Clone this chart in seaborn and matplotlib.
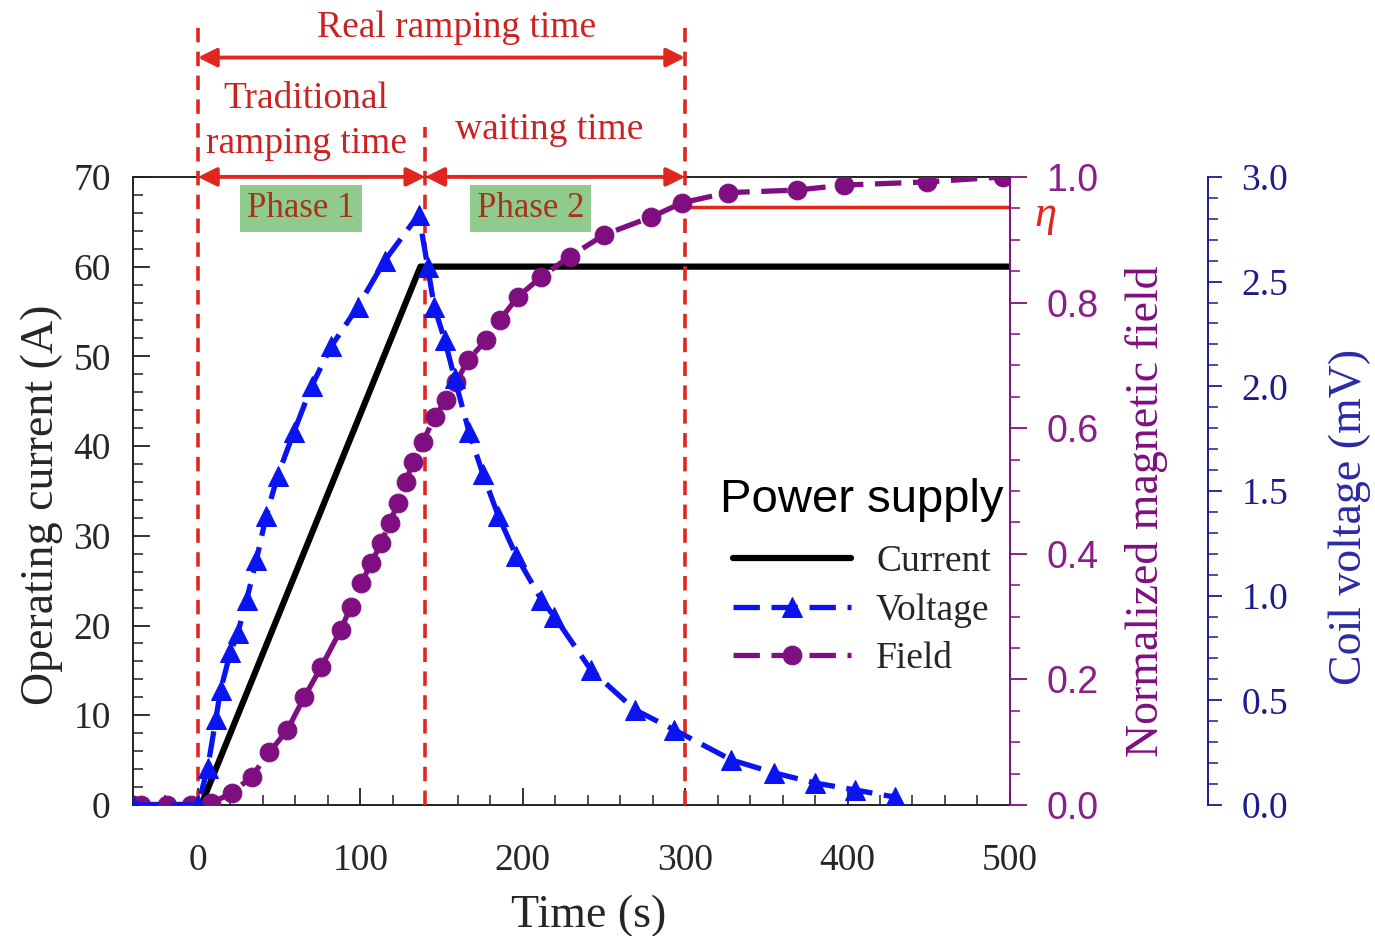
import matplotlib
matplotlib.use("Agg")
import matplotlib.pyplot as plt
import matplotlib.transforms as mtransforms
from matplotlib.ticker import MultipleLocator, FormatStrFormatter
import seaborn as sns

# ---------------- data ----------------
time_current = [-40, 2, 137, 500]
current = [0, 0, 60, 60]

time_voltage = [-40, 0, 6, 11, 14, 20, 24.5, 30, 36, 42, 49, 59, 70, 82, 98.5, 115, 136,
                141.5, 145.5, 152, 158, 167, 175.5, 185, 196, 211.5, 219.5, 242, 269, 293,
                328.5, 355, 380, 404.5, 429]
voltage = [0, 0, 0.175, 0.41, 0.55, 0.73, 0.82, 0.98, 1.17, 1.38, 1.57, 1.78, 2.0, 2.19, 2.38, 2.60, 2.82,
           2.57, 2.38, 2.22, 2.04, 1.78, 1.58, 1.38, 1.19, 0.98, 0.90, 0.645, 0.455, 0.36,
           0.215, 0.153, 0.105, 0.072, 0.038]

time_field = [-40, -35, -19, -4, 8, 21, 33, 44, 55, 65.5, 76, 88, 94, 100.5, 106.7, 112.8, 118, 123,
              128, 132.3, 138.5, 145.7, 153, 159, 166.4, 177.6, 185.8, 197, 211.5, 228.8, 250.3,
              279, 298.3, 326.6, 368.7, 398, 448.8, 496]
field = [0, 0, 0, 0, 0.003, 0.019, 0.045, 0.084, 0.119, 0.172, 0.22, 0.279, 0.315, 0.353, 0.385, 0.417,
         0.449, 0.48, 0.514, 0.546, 0.578, 0.618, 0.645, 0.673, 0.709, 0.74, 0.772, 0.809, 0.841,
         0.873, 0.908, 0.936, 0.959, 0.975, 0.979, 0.987, 0.992, 1.0]

phase_bounds = [0, 140, 300]
eta_level = 0.952
legend_labels = ["Current", "Voltage", "Field"]

# ---------------- style ----------------
sns.set_style("ticks")
plt.rcParams['font.family'] = ['Liberation Serif', 'DejaVu Serif']

RED = '#e0261f'
TXT_RED = '#cc2222'
PURPLE = '#7f0f80'
PURPLE_TXT = '#8a1e8a'
BLUE = '#0a14f0'
NAVY = '#1c1c8c'
NAVY_LBL = '#2a2aa8'

fig = plt.figure(figsize=(13.75, 9.36), dpi=100)
ax = fig.add_axes([0.0967, 0.140, 0.6378, 0.671])
ax2 = ax.twinx()
ax3 = ax.twinx()
ax3.spines['right'].set_position(('axes', 1.226))

# ---------------- series ----------------
sns.lineplot(x=time_current, y=current, ax=ax, color='black', lw=4.5,
             estimator=None, legend=False)
line_current = ax.get_lines()[-1]

sns.lineplot(x=time_field, y=field, ax=ax2, color=PURPLE, lw=3.8,
             linestyle=(0, (5.0, 2.2)), marker='o', markersize=13.5,
             markeredgecolor=PURPLE, estimator=None, legend=False)
line_field = ax2.get_lines()[-1]

sns.lineplot(x=time_voltage, y=voltage, ax=ax3, color=BLUE, lw=3.8,
             linestyle=(0, (5.0, 2.2)), marker='^', markersize=15,
             markeredgecolor=BLUE, estimator=None, legend=False)
line_voltage = ax3.get_lines()[-1]

# eta level line
ax2.hlines(eta_level, phase_bounds[2], 500, color=RED, lw=2.5, zorder=1)

# ---------------- axes ----------------
ax.set_xlim(-40, 500)
ax.set_ylim(0, 70)
ax2.set_ylim(0, 1.0)
ax3.set_ylim(0, 3.0)

ax.xaxis.set_major_locator(MultipleLocator(100))
ax.xaxis.set_minor_locator(MultipleLocator(20))
ax.yaxis.set_major_locator(MultipleLocator(10))
ax.yaxis.set_minor_locator(MultipleLocator(2))
ax2.yaxis.set_major_locator(MultipleLocator(0.2))
ax2.yaxis.set_minor_locator(MultipleLocator(0.05))
ax2.yaxis.set_major_formatter(FormatStrFormatter('%.1f'))
ax3.yaxis.set_major_locator(MultipleLocator(0.5))
ax3.yaxis.set_minor_locator(MultipleLocator(0.1))
ax3.yaxis.set_major_formatter(FormatStrFormatter('%.1f'))

ax.tick_params(axis='both', which='major', direction='in', length=12, width=1.3,
               labelsize=27, color='#222222')
ax.tick_params(axis='both', which='minor', direction='in', length=7, width=1.1,
               color='#222222')
ax.tick_params(axis='x', which='major', pad=28)
ax.tick_params(axis='y', which='major', pad=16)
ax.tick_params(top=False, right=False, which='both')

ax2.tick_params(axis='y', which='major', direction='out', length=12, width=1.3,
                color=PURPLE, labelcolor=PURPLE_TXT, labelsize=27, pad=14)
ax2.tick_params(axis='y', which='minor', direction='out', length=7, width=1.1, color=PURPLE)
for t in ax2.get_yticklabels():
    t.set_fontfamily('Liberation Sans')

ax3.tick_params(axis='y', which='major', direction='out', length=10, width=1.3,
                color=NAVY, labelcolor=NAVY, labelsize=27, pad=14)
ax3.tick_params(axis='y', which='minor', direction='out', length=7, width=1.1, color=NAVY)

for s in ['left', 'bottom', 'top']:
    ax.spines[s].set_linewidth(1.4)
    ax.spines[s].set_color('#222222')
ax.spines['right'].set_visible(False)
for s in ['left', 'bottom', 'top']:
    ax2.spines[s].set_visible(False)
    ax3.spines[s].set_visible(False)
ax2.spines['right'].set_color(PURPLE)
ax2.spines['right'].set_linewidth(1.4)
ax3.spines['right'].set_color(NAVY)
ax3.spines['right'].set_linewidth(1.4)

ax.set_xlabel('Time (s)', fontsize=33)
ax.set_ylabel('Operating current (A)', fontsize=33)
ax.xaxis.set_label_coords(0.52, -0.142)
ax.yaxis.set_label_coords(-0.08, 0.478)
ax2.set_ylabel('Normalized magnetic field', fontsize=33, color=PURPLE)
ax2.yaxis.set_label_coords(1.131, 0.467)
ax3.set_ylabel('Coil voltage (mV)', fontsize=33, color=NAVY_LBL)
ax3.yaxis.set_label_coords(1.363, 0.459)

# ---------------- annotations ----------------
trans = mtransforms.blended_transform_factory(ax.transData, ax.transAxes)
dash_tops = [1.247, 1.08, 1.247]
for xb, top in zip(phase_bounds, dash_tops):
    ax.axvline(xb, ymin=0, ymax=top, color=RED, lw=2.6, linestyle=(0, (4, 2.6)),
               clip_on=False, zorder=5)

arrow_kw = dict(arrowstyle='<|-|>', color=RED, lw=2.8, mutation_scale=28,
                shrinkA=0, shrinkB=0)
ax.annotate('', xy=(phase_bounds[2], 1.19), xytext=(phase_bounds[0], 1.19),
            xycoords=trans, textcoords=trans, arrowprops=arrow_kw, annotation_clip=False)
ax.annotate('', xy=(phase_bounds[1], 1.0), xytext=(phase_bounds[0], 1.0),
            xycoords=trans, textcoords=trans, arrowprops=arrow_kw, annotation_clip=False)
ax.annotate('', xy=(phase_bounds[2], 1.0), xytext=(phase_bounds[1], 1.0),
            xycoords=trans, textcoords=trans, arrowprops=arrow_kw, annotation_clip=False)

ax.text(159, 1.238, 'Real ramping time', transform=trans, ha='center', va='center',
        color=TXT_RED, fontsize=27)
ax.text(66.6, 1.124, 'Traditional', transform=trans, ha='center', va='center',
        color=TXT_RED, fontsize=27)
ax.text(66.6, 1.053, 'ramping time', transform=trans, ha='center', va='center',
        color=TXT_RED, fontsize=27)
ax.text(216.4, 1.075, 'waiting time', transform=trans, ha='center', va='center',
        color=TXT_RED, fontsize=27)

box = dict(boxstyle='square,pad=0.2', fc='#8fcb8c', ec='none')
ax.text(63.5, 0.950, 'Phase 1', transform=trans, ha='center', va='center',
        color='#a8321a', fontsize=25, bbox=box, zorder=6)
ax.text(204.7, 0.950, 'Phase 2', transform=trans, ha='center', va='center',
        color='#a8321a', fontsize=25, bbox=box, zorder=6)

trans2 = mtransforms.blended_transform_factory(ax2.transAxes, ax2.transData)
ax2.text(1.04, 0.94, 'η', transform=trans2, ha='center', va='center', color=RED,
         fontsize=32, fontstyle='italic', clip_on=False)

# ---------------- legend ----------------
fig.text(720 / 1375, 1 - 500 / 936, 'Power supply', ha='left', va='center',
         fontsize=34, family='Liberation Sans', color='black')
leg = fig.legend([line_current, line_voltage, line_field], legend_labels,
                 loc='upper left', bbox_to_anchor=(0.533, 0.418),
                 frameon=False, fontsize=27, handlelength=3.15, handletextpad=0.67,
                 labelspacing=0.37, borderpad=0, borderaxespad=0)

fig.savefig('out.png', dpi=100)
